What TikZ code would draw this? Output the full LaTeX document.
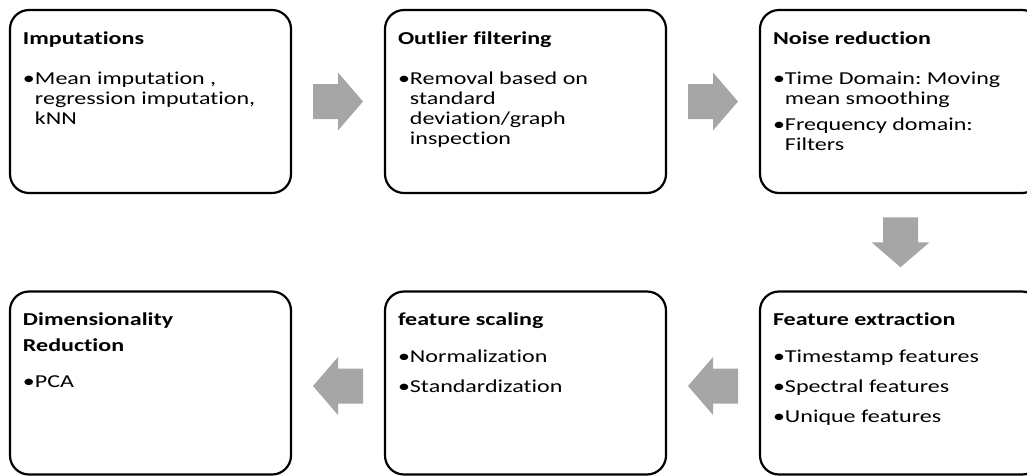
\documentclass[tikz,border=0pt]{standalone}
\usepackage{fontspec}
\usepackage{graphicx}
\setmainfont{Carlito}[Ligatures={NoCommon,NoContextual}]
\usetikzlibrary{calc}
\definecolor{arrowgray}{HTML}{A6A6A6}
\frenchspacing
\tikzset{
  stagebox/.style={draw=black, line width=2.2pt, rounded corners=19pt,
    minimum width=281pt, minimum height=183pt, inner sep=0pt, outer sep=0pt},
  stagetext/.style={anchor=base west, inner sep=0pt, outer sep=0pt,
    font=\fontsize{18.2}{20}\selectfont},
  blockarrow/.pic={
    \fill[arrowgray] (-25,-17.5) -- (0,-17.5) -- (0,-29) -- (25,0)
      -- (0,29) -- (0,17.5) -- (-25,17.5) -- cycle;
  }
}
\newcommand\stagetitle[1]{\multicolumn{2}{@{}l@{}}{\bfseries #1}}
% the box texts are set in a widened Calibri-like face
\newcommand\widetext[1]{\scalebox{1.32}[1]{#1}}
\begin{document}
\begin{tikzpicture}[x=1pt,y=-1pt]
\useasboundingbox (0,0) rectangle (1027,475);
\clip (0,0) rectangle (1027,475);

% stage boxes
\node[stagebox] (imp)   at (150.5,101.5) {};
\node[stagebox] (out)   at (525.5,101.5) {};
\node[stagebox] (noise) at (900.5,101.5) {};
\node[stagebox] (feat)  at (900.5,383) {};
\node[stagebox] (scal)  at (525.5,383) {};
\node[stagebox] (dim)   at (150.5,383) {};

% stage contents
\node[stagetext] (impT) at ($(imp.north west)+(13,34)$) {\widetext{%
  \begin{tabular}[t]{@{}l@{}l@{}}
  \stagetitle{Imputations}\\[20pt]
  •&Mean imputation ,\\
  &regression imputation,\\
  &kNN
  \end{tabular}}};
\node[stagetext] (outT) at ($(out.north west)+(13,34)$) {\widetext{%
  \begin{tabular}[t]{@{}l@{}l@{}}
  \stagetitle{Outlier filtering}\\[20pt]
  •&Removal based on\\
  &standard\\
  &deviation/graph\\
  &inspection
  \end{tabular}}};
\node[stagetext] (noiseT) at ($(noise.north west)+(13,34)$) {\widetext{%
  \begin{tabular}[t]{@{}l@{}l@{}}
  \stagetitle{Noise reduction}\\[20pt]
  •&Time Domain: Moving\\
  &mean smoothing\\[6pt]
  •&Frequency domain:\\
  &Filters
  \end{tabular}}};
\node[stagetext] (featT) at ($(feat.north west)+(13,34)$) {\widetext{%
  \begin{tabular}[t]{@{}l@{}l@{}}
  \stagetitle{Feature extraction}\\[17pt]
  •&Timestamp features\\[10pt]
  •&Spectral features\\[10pt]
  •&Unique features
  \end{tabular}}};
\node[stagetext] (scalT) at ($(scal.north west)+(13,34)$) {\widetext{%
  \begin{tabular}[t]{@{}l@{}l@{}}
  \stagetitle{feature scaling}\\[17pt]
  •&Normalization\\[10pt]
  •&Standardization
  \end{tabular}}};
\node[stagetext] (dimT) at ($(dim.north west)+(13,34)$) {\widetext{%
  \begin{tabular}[t]{@{}l@{}l@{}}
  \stagetitle{Dimensionality}\\[6pt]
  \stagetitle{Reduction}\\[16pt]
  •&PCA
  \end{tabular}}};

% flow arrows between stages
\pic at ($(imp.east)!0.5!(out.west)$) {blockarrow};
\pic at ($(out.east)!0.5!(noise.west)$) {blockarrow};
\pic[rotate=-90] at ($(noise.south)!0.5!(feat.north)$) {blockarrow};
\pic[rotate=180] at ($(feat.west)!0.5!(scal.east)+(0,3)$) {blockarrow};
\pic[rotate=180] at ($(scal.west)!0.5!(dim.east)+(0,3)$) {blockarrow};
\end{tikzpicture}
\end{document}
